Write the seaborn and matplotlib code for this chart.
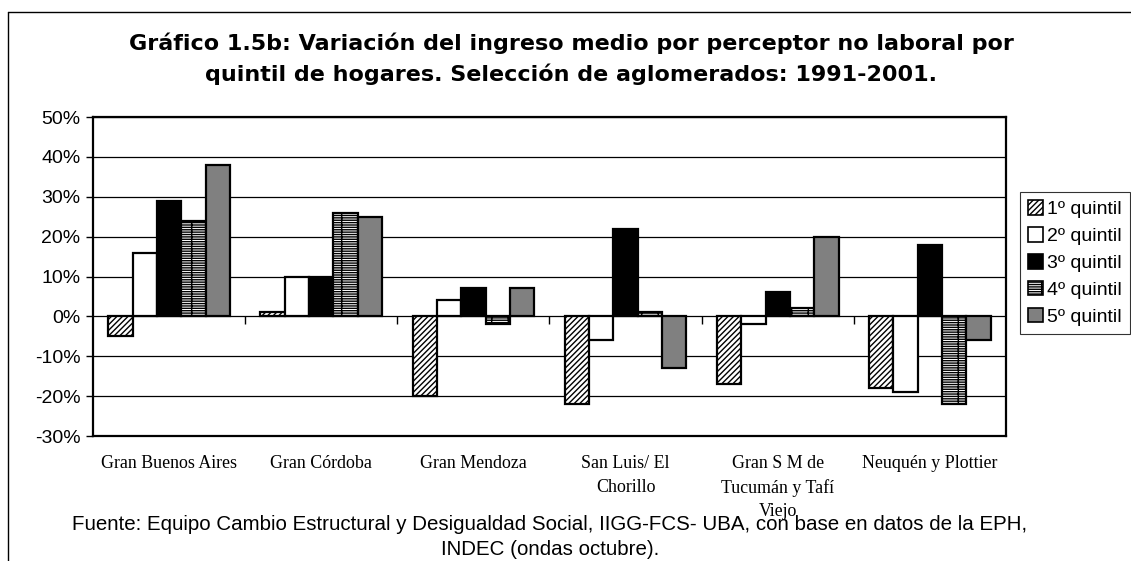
import matplotlib
matplotlib.use("Agg")
import matplotlib.pyplot as plt
import seaborn as sns
import pandas as pd
from matplotlib.patches import Patch
from matplotlib.lines import Line2D
from matplotlib.ticker import FuncFormatter, MultipleLocator

# Aglomerados urbanos (categorías del eje X)
aglomerados = [
    "Gran Buenos Aires",
    "Gran Córdoba",
    "Gran Mendoza",
    "San Luis/ El\nChorillo",
    "Gran S M de\nTucumán y Tafí\nViejo",
    "Neuquén y Plottier",
]

quintiles = ["1º quintil", "2º quintil", "3º quintil", "4º quintil", "5º quintil"]

# Variación porcentual 1991-2001 por quintil
q1 = [-5, 1, -20, -22, -17, -18]
q2 = [16, 10, 4, -6, -2, -19]
q3 = [29, 10, 7, 22, 6, 18]
q4 = [24, 26, -2, 1, 2, -22]
q5 = [38, 25, 7, -13, 20, -6]

y_ticks = [-30, -20, -10, 0, 10, 20, 30, 40, 50]

titulo = ("Gráfico 1.5b: Variación del ingreso medio por perceptor no laboral por\n"
          "quintil de hogares. Selección de aglomerados: 1991-2001.")
fuente = ("Fuente: Equipo Cambio Estructural y Desigualdad Social, IIGG-FCS- UBA, "
          "con base en datos de la EPH,\nINDEC (ondas octubre).")

series = [q1, q2, q3, q4, q5]
rows = []
for q, vals in zip(quintiles, series):
    for a, v in zip(aglomerados, vals):
        rows.append({"aglomerado": a, "quintil": q, "valor": v})
df = pd.DataFrame(rows)

# Estilo de relleno de cada quintil (blanco y negro)
estilos = [
    {"facecolor": "white", "hatch": "//////"},
    {"facecolor": "white", "hatch": ""},
    {"facecolor": "black", "hatch": ""},
    {"facecolor": "white", "hatch": "-------|"},
    {"facecolor": "#808080", "hatch": ""},
]

sns.set_theme(style="white")
plt.rcParams["font.family"] = ["Liberation Sans", "DejaVu Sans"]
plt.rcParams["text.color"] = "black"
plt.rcParams["xtick.color"] = "black"
plt.rcParams["ytick.color"] = "black"
plt.rcParams["hatch.color"] = "black"
plt.rcParams["hatch.linewidth"] = 1.0

W, H = 1131, 561
fig = plt.figure(figsize=(W / 100, H / 100), dpi=100)
fig.patch.set_facecolor("white")
ax = fig.add_axes([93 / W, 1 - 436 / H, (1006 - 93) / W, (436 - 117) / H])

sns.barplot(
    data=df, x="aglomerado", y="valor", hue="quintil",
    order=aglomerados, hue_order=quintiles,
    palette=[e["facecolor"] for e in estilos],
    width=0.8, gap=0, errorbar=None, legend=False, saturation=1, ax=ax,
    zorder=3,
)

for cont, est in zip(ax.containers, estilos):
    for bar in cont:
        bar.set_facecolor(est["facecolor"])
        bar.set_hatch(est["hatch"])
        bar.set_edgecolor("black")
        bar.set_linewidth(1.6)

ymin, ymax = y_ticks[0], y_ticks[-1]
ax.set_ylim(ymin, ymax)
ax.set_xlim(-0.5, len(aglomerados) - 0.5)
ax.yaxis.set_major_locator(MultipleLocator(10))
ax.yaxis.set_major_formatter(FuncFormatter(lambda v, p: f"{v:.0f}%"))
ax.grid(axis="y", color="black", linewidth=0.9, zorder=0)
ax.set_axisbelow(True)
ax.set_xlabel("")
ax.set_ylabel("")

for s in ax.spines.values():
    s.set_color("black")
    s.set_linewidth(1.6)

ax.tick_params(axis="y", which="major", direction="out", length=5, width=1,
               color="black", left=True, labelsize=14, pad=4, labelcolor="black")
ax.tick_params(axis="x", length=0, pad=14, labelcolor="black")
for t in ax.get_xticklabels():
    t.set_fontfamily("Liberation Serif")
    t.set_fontsize(12.9)
    t.set_linespacing(1.47)
    t.set_verticalalignment("top")

# Marcas de separación de categorías sobre la línea del 0%
sec = ax.secondary_xaxis((0 - ymin) / (ymax - ymin))
sec.set_xticks([i + 0.5 for i in range(len(aglomerados) - 1)])
sec.set_xticklabels([])
sec.spines["bottom"].set_visible(False)
sec.tick_params(axis="x", direction="out", length=6, width=1, color="black")

handles = [Patch(facecolor=e["facecolor"], hatch=e["hatch"], edgecolor="black",
                 linewidth=1.2) for e in estilos]
leg = fig.legend(handles, quintiles, loc="upper left",
                 bbox_to_anchor=(1020 / W, 1 - 192 / H),
                 frameon=True, fancybox=False, edgecolor="black",
                 fontsize=14, handlelength=0.8, handleheight=0.8,
                 handletextpad=0.2, labelspacing=0.45, borderpad=0.4,
                 borderaxespad=0)
leg.get_frame().set_linewidth(0.8)
for t in leg.get_texts():
    t.set_color("black")

fig.text(0.505, 1 - 59 / H, titulo, ha="center", va="center", fontsize=16,
         fontweight="bold", family="DejaVu Sans", linespacing=1.55,
         multialignment="center", color="black")
fig.text(550 / W, 1 - 537 / H, fuente, ha="center", va="center", fontsize=14.8,
         linespacing=1.4, multialignment="center", color="black")

# Marco exterior
fig.add_artist(Line2D([8 / W, 1], [1 - 12 / H, 1 - 12 / H],
                      transform=fig.transFigure, color="black", linewidth=1))
fig.add_artist(Line2D([8 / W, 8 / W], [0, 1 - 12 / H],
                      transform=fig.transFigure, color="black", linewidth=1))

fig.savefig("out.png", dpi=100)
